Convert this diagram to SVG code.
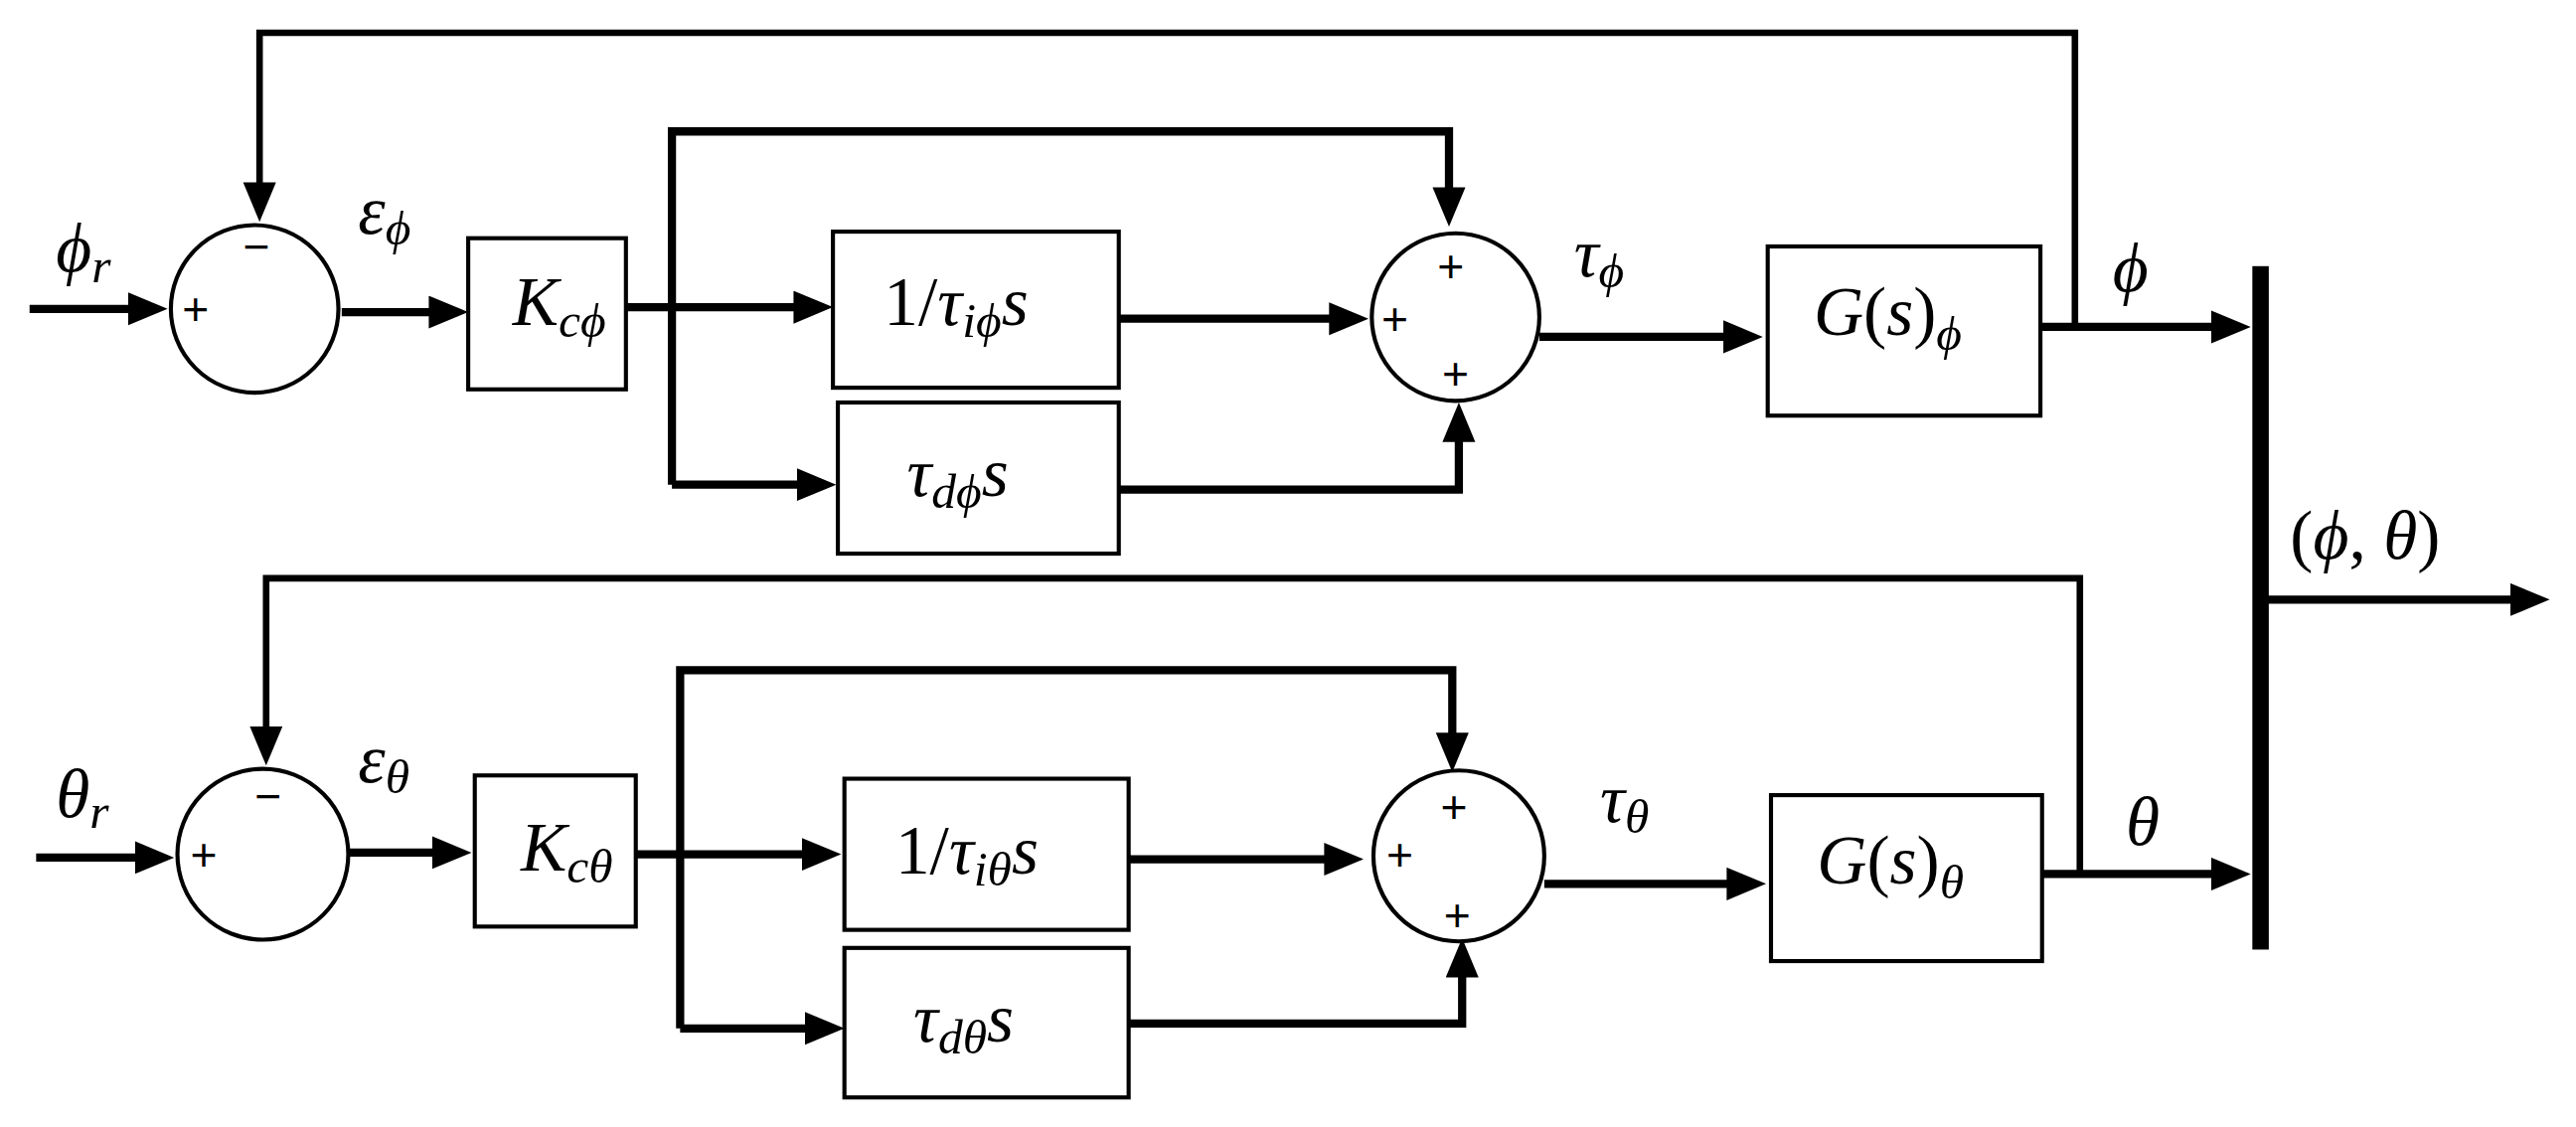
<svg xmlns="http://www.w3.org/2000/svg" width="2592" height="1134" viewBox="0 0 2592 1134">
<defs>
<marker id="ah" markerUnits="userSpaceOnUse" markerWidth="26" markerHeight="22" refX="2" refY="10" orient="auto"><path d="M0,0 L24,10 L0,20 z" fill="#000"/></marker>
<style>
.w{stroke:#000;stroke-width:5;fill:none}
.f{stroke:#000;stroke-width:4;fill:none}
.b{stroke:#000;stroke-width:2.5;fill:#fff}
.m{font-family:"Liberation Serif","DejaVu Serif",serif;font-style:italic;font-size:42px;fill:#000}
.n{font-style:normal}
.s{font-size:30px}
.p{font-family:"Liberation Sans",Arial,sans-serif;font-size:28px;fill:#000;text-anchor:middle}
</style>
</defs>
<rect width="2592" height="1134" fill="#fff"/>
<g transform="scale(1.65306)">
<g id="connectors">
<path class="w" d="M18,188 H80" marker-end="url(#ah)"/>
<path class="f" d="M1263,198 V20 H158 V113" marker-end="url(#ah)"/>
<path class="w" d="M208,190 H263" marker-end="url(#ah)"/>
<path class="w" d="M381,187 H485" marker-end="url(#ah)"/>
<path class="w" d="M409,295 H487" marker-end="url(#ah)"/>
<path class="w" d="M409,295 V80 H882 V116" marker-end="url(#ah)"/>
<path class="w" d="M681,194 H811" marker-end="url(#ah)"/>
<path class="w" d="M681,298 H888 V267" marker-end="url(#ah)"/>
<path class="w" d="M937,205 H1051" marker-end="url(#ah)"/>
<path class="w" d="M1242,199 H1348" marker-end="url(#ah)"/>
<path class="f" d="M1266,532 V352 H162 V444" marker-end="url(#ah)"/>
<path class="w" d="M22,522 H84" marker-end="url(#ah)"/>
<path class="w" d="M212,519 H265" marker-end="url(#ah)"/>
<path class="w" d="M387,520 H490" marker-end="url(#ah)"/>
<path class="w" d="M414,626 H492" marker-end="url(#ah)"/>
<path class="w" d="M414,626 V408 H884 V448" marker-end="url(#ah)"/>
<path class="w" d="M687,523 H808" marker-end="url(#ah)"/>
<path class="w" d="M687,623 H890 V593" marker-end="url(#ah)"/>
<path class="w" d="M940,538 H1053" marker-end="url(#ah)"/>
<path class="w" d="M1243,532 H1348" marker-end="url(#ah)"/>
<path class="w" d="M1380,365 H1530" marker-end="url(#ah)"/>
</g>
<g id="mux"><rect x="1371" y="162" width="10" height="416" fill="#000"/></g>
<g id="sum1"><circle cx="155" cy="188" r="51" class="b"/><text x="156" y="160" class="p">−</text><text x="119" y="198" class="p">+</text></g>
<g id="sum2"><circle cx="886" cy="193" r="51" class="b"/><text x="883" y="172" class="p">+</text><text x="849" y="204" class="p">+</text><text x="886" y="237" class="p">+</text></g>
<g id="sum3"><circle cx="160" cy="520" r="52" class="b"/><text x="163" y="494" class="p">−</text><text x="124" y="530" class="p">+</text></g>
<g id="sum4"><circle cx="888" cy="521" r="52" class="b"/><text x="885" y="501" class="p">+</text><text x="852" y="530" class="p">+</text><text x="887" y="567" class="p">+</text></g>
<g id="kphi"><rect x="285" y="145" width="96" height="92" class="b"/><text x="312" y="198" class="m">K<tspan class="s" dy="7">cϕ</tspan></text></g>
<g id="iphi"><rect x="507" y="141" width="174" height="95" class="b"/><text x="538" y="198" class="m"><tspan class="n">1/</tspan>τ<tspan class="s" dy="7">iϕ</tspan><tspan dy="-7">s</tspan></text></g>
<g id="dphi"><rect x="510" y="245" width="171" height="92" class="b"/><text x="552" y="302" class="m">τ<tspan class="s" dy="7">dϕ</tspan><tspan dy="-7">s</tspan></text></g>
<g id="gphi"><rect x="1076" y="150" width="166" height="103" class="b"/><text x="1104" y="204" class="m">G<tspan class="n">(</tspan>s<tspan class="n">)</tspan><tspan class="s" dy="9">ϕ</tspan></text></g>
<g id="kth"><rect x="289" y="472" width="98" height="92" class="b"/><text x="317" y="530" class="m">K<tspan class="s" dy="7">cθ</tspan></text></g>
<g id="ith"><rect x="514" y="474" width="173" height="92" class="b"/><text x="545" y="532" class="m"><tspan class="n">1/</tspan>τ<tspan class="s" dy="7">iθ</tspan><tspan dy="-7">s</tspan></text></g>
<g id="dth"><rect x="514" y="577" width="173" height="91" class="b"/><text x="556" y="634" class="m">τ<tspan class="s" dy="7">dθ</tspan><tspan dy="-7">s</tspan></text></g>
<g id="gth"><rect x="1078" y="484" width="165" height="101" class="b"/><text x="1106" y="538" class="m">G<tspan class="n">(</tspan>s<tspan class="n">)</tspan><tspan class="s" dy="9">θ</tspan></text></g>
<g id="labels">
<text x="34" y="165" class="m">ϕ<tspan class="s" dy="7">r</tspan></text>
<text x="218" y="142" class="m">ε<tspan class="s" dy="7">ϕ</tspan></text>
<text x="958" y="168" class="m">τ<tspan class="s" dy="7">ϕ</tspan></text>
<text x="1286" y="177" class="m">ϕ</text>
<text x="1394" y="340" class="m"><tspan class="n">(</tspan>ϕ<tspan class="n">, </tspan>θ<tspan class="n">)</tspan></text>
<text x="34" y="497" class="m">θ<tspan class="s" dy="7">r</tspan></text>
<text x="218" y="476" class="m">ε<tspan class="s" dy="7">θ</tspan></text>
<text x="974" y="500" class="m">τ<tspan class="s" dy="7">θ</tspan></text>
<text x="1294" y="514" class="m">θ</text>
</g>
</g>
</svg>
